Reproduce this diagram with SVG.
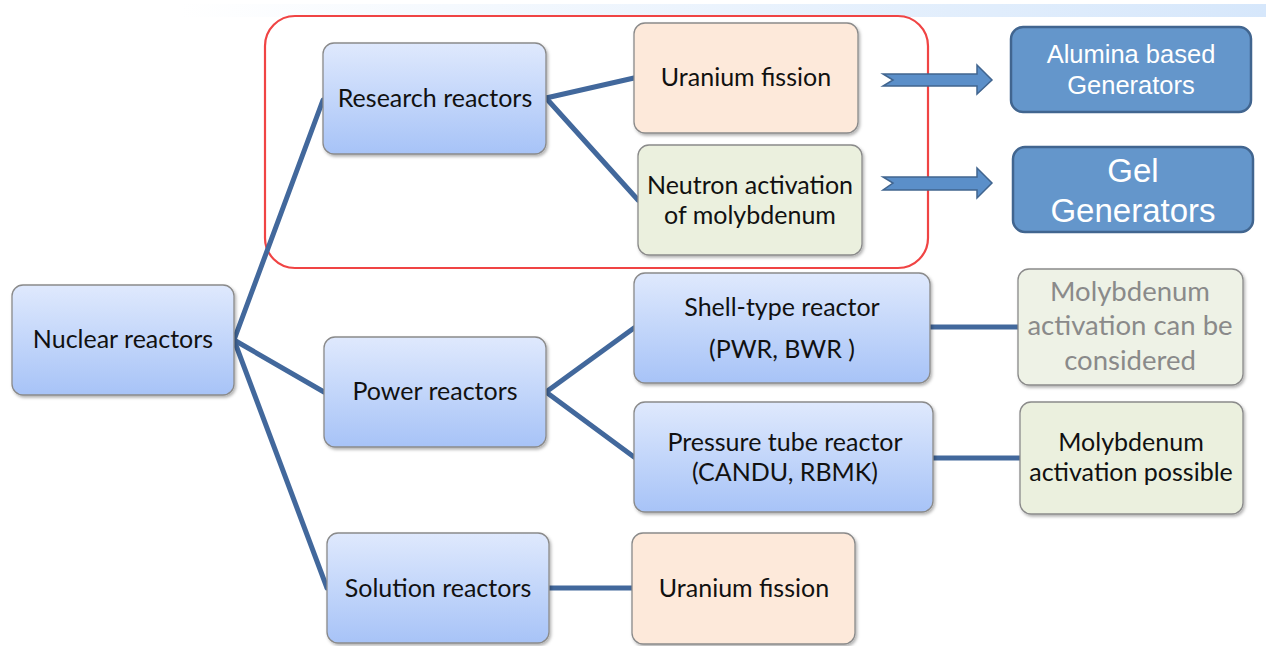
<svg xmlns="http://www.w3.org/2000/svg" width="1266" height="646" viewBox="0 0 1266 646">
<defs>
<linearGradient id="topbar" x1="0" y1="0" x2="1" y2="0">
<stop offset="0" stop-color="#ffffff"/>
<stop offset="1" stop-color="#d6e7fb"/>
</linearGradient>
<linearGradient id="blue" x1="0" y1="0" x2="0" y2="1">
<stop offset="0" stop-color="#dfe9fd"/>
<stop offset="1" stop-color="#a7c3f7"/>
</linearGradient>
<filter id="sh" x="-10%" y="-10%" width="125%" height="130%">
<feDropShadow dx="1.5" dy="2" stdDeviation="1.5" flood-color="#000" flood-opacity="0.3"/>
</filter>
</defs>
<style>
.box{stroke:#8a8a8a;stroke-width:1.3;filter:url(#sh)}
.b{fill:url(#blue)}
.p{fill:#fde9da}
.g{fill:#ebf0de}
.g2{fill:#eef2e6}
.gen{fill:#6496cb;stroke:#41658f;stroke-width:2.5}
.t{font-family:Lato,"Open Sans","Liberation Sans",sans-serif;font-size:25px;fill:#111;text-anchor:middle}
.tg{fill:#8a8a8a;font-size:27.5px}
.tw{font-family:"Liberation Sans",Arial,sans-serif;fill:#fff;text-anchor:middle}
.c{stroke:#42689c;stroke-width:5;fill:none;stroke-linecap:round}
.arr{fill:#5b8fc9;stroke:#41658f;stroke-width:1.5}
</style>
<rect x="180" y="4" width="1086" height="13" fill="url(#topbar)"/>
<rect x="265" y="16" width="663" height="252" rx="30" fill="none" stroke="#f04444" stroke-width="2.2"/>
<g id="connectors">
<path class="c" d="M234 340 L323 100"/>
<path class="c" d="M234 340 L324 392"/>
<path class="c" d="M234 340 L327 588"/>
<path class="c" d="M546 98 L634 78"/>
<path class="c" d="M546 98 L638 200"/>
<path class="c" d="M546 392 L634 328"/>
<path class="c" d="M546 392 L634 457"/>
<path class="c" d="M930 327 L1018 327"/>
<path class="c" d="M933 458 L1020 458"/>
<path class="c" d="M549 588 L632 588"/>
<path class="arr" d="M883 74 L977 74 L977 65 L992 80 L977 94 L977 86 L883 86 L893 80 Z"/>
<path class="arr" d="M883 177 L977 177 L977 168 L992 183 L977 198 L977 190 L883 190 L893 183 Z"/>
</g>
<g id="nuclear">
<rect class="box b" x="12" y="285" width="222" height="110" rx="11"/>
<text class="t" x="123" y="348">Nuclear reactors</text>
</g>
<g id="research">
<rect class="box b" x="323" y="43" width="223" height="111" rx="11"/>
<text class="t" x="435" y="107">Research reactors</text>
</g>
<g id="uranium1">
<rect class="box p" x="634" y="23" width="224" height="110" rx="11"/>
<text class="t" x="746" y="86">Uranium fission</text>
</g>
<g id="neutron">
<rect class="box g" x="638" y="145" width="224" height="110" rx="11"/>
<text class="t" x="750" y="194">Neutron activation</text>
<text class="t" x="750" y="224">of molybdenum</text>
</g>
<g id="power">
<rect class="box b" x="324" y="337" width="222" height="110" rx="11"/>
<text class="t" x="435" y="400">Power reactors</text>
</g>
<g id="shell">
<rect class="box b" x="634" y="273" width="296" height="110" rx="11"/>
<text class="t" x="782" y="316">Shell-type reactor</text>
<text class="t" x="782" y="358">(PWR, BWR )</text>
</g>
<g id="pressure">
<rect class="box b" x="634" y="402" width="299" height="110" rx="11"/>
<text class="t" x="785" y="451">Pressure tube reactor</text>
<text class="t" x="785" y="481">(CANDU, RBMK)</text>
</g>
<g id="solution">
<rect class="box b" x="327" y="533" width="222" height="110" rx="11"/>
<text class="t" x="438" y="597">Solution reactors</text>
</g>
<g id="uranium2">
<rect class="box p" x="632" y="533" width="223" height="111" rx="11"/>
<text class="t" x="744" y="597">Uranium fission</text>
</g>
<g id="moly1">
<rect class="box g2" x="1018" y="269" width="225" height="116" rx="11"/>
<text class="t tg" x="1130" y="301">Molybdenum</text>
<text class="t tg" x="1130" y="335">activation can be</text>
<text class="t tg" x="1130" y="370">considered</text>
</g>
<g id="moly2">
<rect class="box g" x="1020" y="402" width="223" height="112" rx="11"/>
<text class="t" x="1131" y="451">Molybdenum</text>
<text class="t" x="1131" y="481">activation possible</text>
</g>
<g id="alumina">
<rect class="gen" x="1011" y="27" width="240" height="85" rx="12"/>
<text class="tw" x="1131" y="63" font-size="25.5">Alumina based</text>
<text class="tw" x="1131" y="94" font-size="25.5">Generators</text>
</g>
<g id="gel">
<rect class="gen" x="1013" y="147" width="240" height="85" rx="12"/>
<text class="tw" x="1133" y="182" font-size="33">Gel</text>
<text class="tw" x="1133" y="222" font-size="33">Generators</text>
</g>
</svg>
